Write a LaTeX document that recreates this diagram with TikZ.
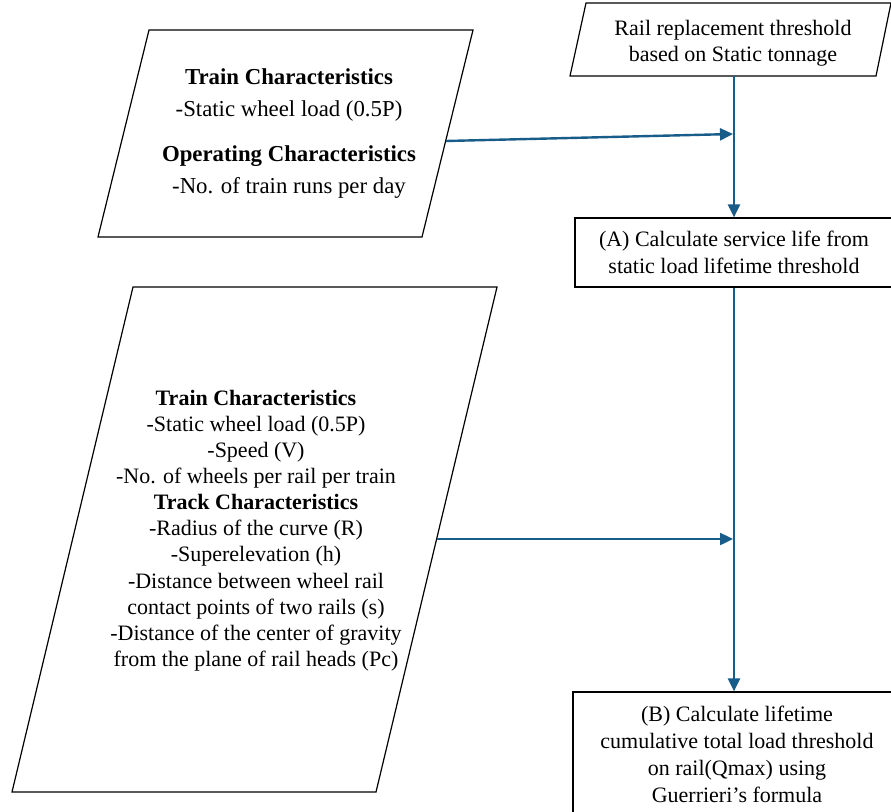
\documentclass[tikz,border=0pt]{standalone}
\usepackage{fontspec}
\setmainfont{LiberationSerif}[Extension=.ttf,UprightFont=*-Regular,BoldFont=*-Bold,ItalicFont=*-Italic,BoldItalicFont=*-BoldItalic]
\usetikzlibrary{arrows.meta}
\definecolor{arrowblue}{RGB}{24,92,138}
\begin{document}
\begin{tikzpicture}[x=1pt,y=-1pt,
  shapeline/.style={draw=black,line width=1.2pt,line join=miter},
  txt/.style={align=center,font=\rmfamily\fontsize{22}{26.1}\selectfont,inner sep=0pt},
  bigtxt/.style={align=center,font=\rmfamily\fontsize{22.8}{32}\selectfont,inner sep=0pt},
  boxnode/.style={shapeline,rectangle,align=center,font=\rmfamily\fontsize{22}{27}\selectfont,inner sep=0pt},
  flow/.style={draw=arrowblue,line width=2.4pt,-{Triangle[length=13pt,width=12pt]}}]
\useasboundingbox (0,0) rectangle (891,811);
\fill[white] (0,0) rectangle (891,811);
\clip (0,0) rectangle (891,811);

% top-right parallelogram: rail replacement threshold
\coordinate (tr1) at (586,3);
\coordinate (tr2) at (891,3);
\coordinate (tr3) at (876,76);
\coordinate (tr4) at (570,76);
\draw[shapeline] (tr1) -- (tr2) -- (tr3) -- (tr4) -- cycle;
\node[txt] (thr) at (733,43) {Rail replacement threshold\\based on Static tonnage};
\coordinate (throut) at (734,76);

% top-left parallelogram
\coordinate (tl1) at (149,30);
\coordinate (tl2) at (473,30);
\coordinate (tl3) at (422,237);
\coordinate (tl4) at (98,237);
\draw[shapeline] (tl1) -- (tl2) -- (tl3) -- (tl4) -- cycle;
\node[bigtxt] (inone) at (289,134) {\textbf{Train Characteristics}\\-Static wheel load (0.5P)\\[13pt]\textbf{Operating Characteristics}\\-No. of train runs per day};
\coordinate (inoneout) at (446,141);
\coordinate (joinA) at (733,134);

% bottom-left parallelogram
\coordinate (bl1) at (133,287);
\coordinate (bl2) at (497,287);
\coordinate (bl3) at (376,792);
\coordinate (bl4) at (12,792);
\draw[shapeline] (bl1) -- (bl2) -- (bl3) -- (bl4) -- cycle;
\node[txt] (intwo) at (256,530.5) {\textbf{Train Characteristics}\\-Static wheel load (0.5P)\\-Speed (V)\\-No. of wheels per rail per train\\\textbf{Track Characteristics}\\-Radius of the curve (R)\\-Superelevation (h)\\-Distance between wheel rail\\contact points of two rails (s)\\-Distance of the center of gravity\\from the plane of rail heads (Pc)};
\coordinate (intwoout) at (437,539);
\coordinate (joinB) at (733,539);

% process boxes
\node[boxnode,minimum width=318pt,minimum height=69pt] (boxA) at (734,252.5) {(A) Calculate service life from\\static load lifetime threshold};
\node[boxnode,minimum width=328pt,minimum height=124pt] (boxB) at (737,754) {(B) Calculate lifetime\\cumulative total load threshold\\on rail(Qmax) using\\Guerrieri’s formula};

% connectors
\draw[flow] (throut) -- (throut |- boxA.north);
\draw[flow] (inoneout) -- (joinA);
\draw[flow] (boxA.south -| throut) -- (throut |- boxB.north);
\draw[flow] (intwoout) -- (joinB);
\end{tikzpicture}
\end{document}
